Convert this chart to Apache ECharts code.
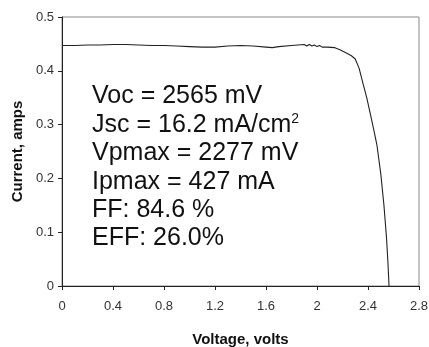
<!DOCTYPE html>
<html><head><meta charset="utf-8">
<script src="https://cdn.jsdelivr.net/npm/echarts@6/dist/echarts.min.js"></script>
<style>html,body{margin:0;padding:0;background:#fff}#c{width:429px;height:347px}</style>
</head><body><div id="c"></div>
<script>
const voltage = [0,0.1,0.2,0.3,0.4,0.5,0.6,0.7,0.8,0.9,1.0,1.1,1.2,1.3,1.4,1.5,1.6,1.65,1.7,1.8,1.85,1.9,1.92,1.94,1.96,1.98,2.0,2.02,2.04,2.08,2.14,2.18,2.23,2.27,2.30,2.33,2.36,2.39,2.42,2.45,2.47,2.50,2.525,2.545,2.556,2.565];
const current = [0.447,0.447,0.448,0.448,0.449,0.449,0.448,0.447,0.447,0.446,0.445,0.444,0.444,0.446,0.447,0.446,0.444,0.443,0.445,0.447,0.448,0.449,0.446,0.449,0.446,0.448,0.445,0.447,0.444,0.444,0.443,0.439,0.433,0.428,0.422,0.405,0.377,0.350,0.318,0.285,0.262,0.209,0.150,0.090,0.045,0];
const xTicks = ['0','0.4','0.8','1.2','1.6','2','2.4','2.8'];
const yTicks = ['0','0.1','0.2','0.3','0.4','0.5'];
const annotations = ['Voc = 2565 mV','Jsc = 16.2 mA/cm{s|2}','Vpmax = 2277 mV','Ipmax = 427 mA','FF: 84.6 %','EFF: 26.0%'];
const xTitle = 'Voltage, volts';
const yTitle = 'Current, amps';

const chart = echarts.init(document.getElementById('c'), null, {renderer:'canvas'});
const font = '"Liberation Sans", Arial, sans-serif';
chart.setOption({
  animation:false,
  backgroundColor:'#fff',
  grid:{left:62,top:17,right:10,bottom:61,outerBoundsMode:'none',containLabel:false,show:true,borderColor:'#888',borderWidth:1,backgroundColor:'transparent'},
  xAxis:{type:'value',min:0,max:2.8,interval:0.4,
    name:xTitle,nameLocation:'middle',nameGap:46,
    nameTextStyle:{fontFamily:font,fontSize:15,fontWeight:'bold',color:'#111'},
    axisLine:{show:true,lineStyle:{color:'#222',width:1}},
    axisTick:{show:true,length:4,lineStyle:{color:'#222'}},
    axisLabel:{fontFamily:font,fontSize:13,color:'#333',margin:14,
      formatter:(v)=>{const i=Math.round(v/0.4);return xTicks[i]!==undefined?xTicks[i]:'';}},
    splitLine:{show:false}},
  yAxis:{type:'value',min:0,max:0.5,interval:0.1,
    name:yTitle,nameLocation:'middle',nameGap:36,
    nameTextStyle:{fontFamily:font,fontSize:15,fontWeight:'bold',color:'#111'},
    axisLine:{show:true,lineStyle:{color:'#222',width:1}},
    axisTick:{show:true,length:4,lineStyle:{color:'#222'}},
    axisLabel:{fontFamily:font,fontSize:13,color:'#333',margin:8,
      formatter:(v)=>{const i=Math.round(v/0.1);return yTicks[i]!==undefined?yTicks[i]:'';}},
    splitLine:{show:false}},
  series:[{type:'line',data:voltage.map((v,i)=>[v,current[i]]),
    showSymbol:false,lineStyle:{color:'#222',width:1.1},smooth:false}],
  graphic: annotations.map((t,i)=>({type:'text',left:92,top:95+i*28.4-11,
    style:{text:t,fill:'#111',font:'25px '+font,
      rich:{s:{fontSize:14,fontFamily:font,fill:'#111',verticalAlign:'top',padding:[0,0,10,0]}}}}))
});
</script></body></html>
